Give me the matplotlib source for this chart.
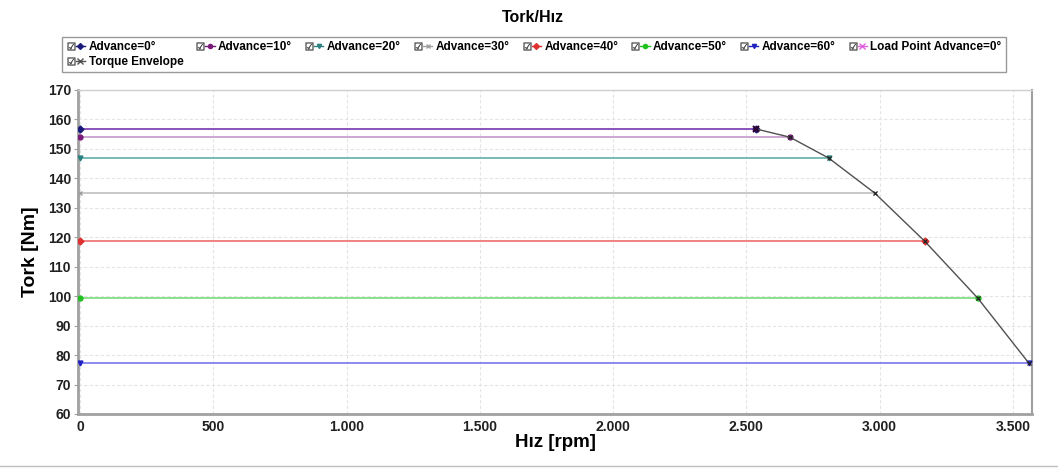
import matplotlib
matplotlib.use("Agg")
import matplotlib.pyplot as plt
from matplotlib.lines import Line2D
from matplotlib.legend_handler import HandlerTuple
from matplotlib.ticker import FuncFormatter

# ---- data ----
labels = ["Advance=0°", "Advance=10°", "Advance=20°", "Advance=30°",
          "Advance=40°", "Advance=50°", "Advance=60°"]
torque = [156.8, 154.0, 146.9, 135.0, 118.7, 99.4, 77.3]
base_speed = [2535, 2663, 2809, 2982, 3169, 3368, 3560]
line_colors = ["#1a1a7a", "#c8a0d0", "#70b4b4", "#c4c4c4", "#f07878", "#80e080", "#8080f0"]
legend_colors = ["#1a1a7a", "#7a1a7a", "#2a8080", "#a0a0a0", "#e03030", "#20c020", "#2020c0"]
markers = ["D", "o", "v", "x", "D", "o", "v"]
load_label = "Load Point Advance=0°"
load_speed = [0, 2535]
load_torque = [156.8, 156.8]
env_label = "Torque Envelope"
xticks = [0, 500, 1000, 1500, 2000, 2500, 3000, 3500]
yticks = [60, 70, 80, 90, 100, 110, 120, 130, 140, 150, 160, 170]

plt.rcParams['font.family'] = ['Liberation Sans', 'DejaVu Sans']

fig = plt.figure(figsize=(10.58, 4.68), dpi=100)
ax = fig.add_axes([0.0737, 0.1154, 0.9017, 0.6923])

handles = {}
for lab, t, s, c, lc, m in zip(labels, torque, base_speed, line_colors, legend_colors, markers):
    ax.plot([0, s], [t, t], color=c, lw=1.3, zorder=2)
    ax.plot([0, s], [t, t], ls='none', marker=m, ms=3.5, color=lc, mew=1, zorder=4)
    handles[lab] = Line2D([], [], color=lc, lw=1, marker=m, ms=3)

# load point line (overlaps Advance=0)
ax.plot(load_speed, load_torque, color="#a060c8", lw=1.3, alpha=0.9, zorder=3)
ax.plot([load_speed[-1]], [load_torque[-1]], ls='none', marker='x', ms=5, mew=1.5, color="#300030", zorder=5)
handles[load_label] = Line2D([], [], color="#e060e0", lw=1, marker='x', ms=4)

# torque envelope
ax.plot(base_speed, torque, color="#505050", lw=1, marker='x', ms=3.5, mew=0.8, mec="#202020", zorder=4)
handles[env_label] = Line2D([], [], color="#505050", lw=1, marker='x', ms=4)

ax.set_xlim(-8, 3572)
ax.set_ylim(60, 170)
ax.set_xticks(xticks)
ax.set_yticks(yticks)
ax.xaxis.set_major_formatter(FuncFormatter(lambda v, p: f"{int(v):,}".replace(",", ".")))
ax.grid(True, color="#e4e4e4", ls=(0, (3, 2)), lw=0.8)
ax.set_axisbelow(True)

for side in ['left', 'bottom']:
    ax.spines[side].set_color("#a0a0a0")
    ax.spines[side].set_linewidth(2)
ax.spines['right'].set_color("#a0a0a0")
ax.spines['right'].set_linewidth(1.5)
ax.spines['top'].set_color("#d0d0d0")
ax.spines['top'].set_linewidth(1)

ax.tick_params(axis='y', length=3, color="#a0a0a0", labelsize=10, pad=2)
ax.tick_params(axis='x', length=0, labelsize=10, pad=4)
for lbl in ax.get_xticklabels() + ax.get_yticklabels():
    lbl.set_fontweight('bold')
    lbl.set_color("#202020")

ax.set_xlabel("Hız [rpm]", fontsize=13.5, fontweight='bold', labelpad=0)
ax.set_ylabel("Tork [Nm]", fontsize=14, fontweight='bold', labelpad=6)

fig.text(0.504, 0.962, "Tork/Hız", ha='center', va='center', fontsize=11.5, fontweight='bold')

# legend with checkbox symbols
cb = lambda: Line2D([], [], ls='none', marker='$\u2611$', ms=5.5, color="#404040", mew=0.3)
order = [labels[0], env_label] + labels[1:] + [load_label]
leg_handles = [(cb(), handles[k]) for k in order]
leg = fig.legend(leg_handles, order, ncol=8, loc='upper left',
                 bbox_to_anchor=(0.0586, 0.921), frameon=True, fancybox=False,
                 handler_map={tuple: HandlerTuple(ndivide=None, pad=0.05)},
                 handlelength=1.6, handletextpad=0.3, columnspacing=1.05,
                 labelspacing=0.25, borderpad=0.35, borderaxespad=0,
                 prop={'weight': 'bold', 'size': 8.5})
leg.get_frame().set_edgecolor("#808080")
leg.get_frame().set_linewidth(1)

fig.add_artist(Line2D([0.0, 1.0], [0.004, 0.004], transform=fig.transFigure, color="#c0c0c0", lw=1))

fig.savefig("out.png", dpi=100)
